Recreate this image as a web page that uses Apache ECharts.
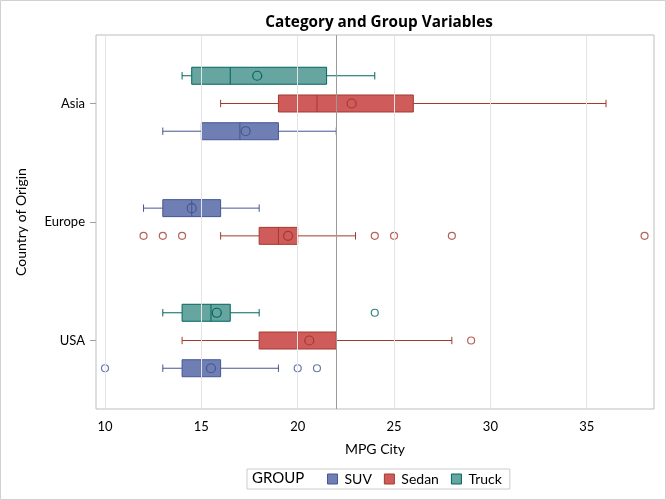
<!DOCTYPE html>
<html>
<head>
<meta charset="utf-8">
<script src="https://cdn.jsdelivr.net/npm/echarts@6/dist/echarts.min.js"></script>
<style>
html,body{margin:0;padding:0;background:#fff;}
#chart{width:666px;height:500px;}
</style>
</head>
<body>
<div id="chart"></div>
<script>
const countries = ['Asia', 'Europe', 'USA'];
const groups = ['SUV', 'Sedan', 'Truck'];
const xTicks = [10, 15, 20, 25, 30, 35];
const refValue = 22;

// [country, lowWhisker, q1, median, q3, highWhisker, mean]
const suvStats = [
  ['Asia', 13, 15, 17, 19, 22, 17.3],
  ['Europe', 12, 13, 14.5, 16, 18, 14.5],
  ['USA', 13, 14, 15, 16, 19, 15.5]
];
const sedanStats = [
  ['Asia', 16, 19, 21, 26, 36, 22.8],
  ['Europe', 16, 18, 19, 20, 23, 19.5],
  ['USA', 14, 18, 20, 22, 28, 20.6]
];
const truckStats = [
  ['Asia', 14, 14.5, 16.5, 21.5, 24, 17.9],
  ['USA', 13, 14, 15.5, 16.5, 18, 15.8]
];

// [country, value]
const suvOutliers = [['USA', 10], ['USA', 20], ['USA', 21]];
const sedanOutliers = [
  ['Europe', 12], ['Europe', 13], ['Europe', 14], ['Europe', 24],
  ['Europe', 25], ['Europe', 28], ['Europe', 38], ['USA', 29]
];
const truckOutliers = [['USA', 24]];

const statsByGroup = { SUV: suvStats, Sedan: sedanStats, Truck: truckStats };
const outliersByGroup = { SUV: suvOutliers, Sedan: sedanOutliers, Truck: truckOutliers };
const fillColors = { SUV: '#6F7EB3', Sedan: '#D05B5B', Truck: '#66A5A0' };
const lineColors = { SUV: '#445694', Sedan: '#A23A2E', Truck: '#01665E' };

const FONT = 'Lato';
const SLOT = 0.234;

function groupsIn(country) {
  return groups.filter(g => statsByGroup[g].some(r => r[0] === country));
}
function slotOffset(country, group) {
  const present = groupsIn(country);
  if (present.length === 3) return { SUV: 1, Sedan: 0, Truck: -1 }[group];
  const i = present.indexOf(group);
  return i - (present.length - 1) / 2;
}
function yPos(country, group) {
  return countries.indexOf(country) + slotOffset(country, group) * SLOT;
}

function makeRender(group) {
  return function (params, api) {
    const y = api.value(0);
    const p = k => api.coord([api.value(k), y]);
    const pl = p(1), pq1 = p(2), pm = p(3), pq3 = p(4), ph = p(5), pmean = p(6);
    const cy = pl[1];
    const hh = 8.5, ch = 3.7;
    const stroke = lineColors[group];
    const ls = { stroke: stroke, lineWidth: 1 };
    return {
      type: 'group',
      children: [
        { type: 'line', shape: { x1: pl[0], y1: cy, x2: pq1[0], y2: cy }, style: ls },
        { type: 'line', shape: { x1: pq3[0], y1: cy, x2: ph[0], y2: cy }, style: ls },
        { type: 'line', shape: { x1: pl[0], y1: cy - ch, x2: pl[0], y2: cy + ch }, style: ls },
        { type: 'line', shape: { x1: ph[0], y1: cy - ch, x2: ph[0], y2: cy + ch }, style: ls },
        { type: 'rect', shape: { x: pq1[0], y: cy - hh, width: pq3[0] - pq1[0], height: 2 * hh },
          style: { fill: fillColors[group], stroke: stroke, lineWidth: 1 } },
        { type: 'line', shape: { x1: pm[0], y1: cy - hh, x2: pm[0], y2: cy + hh }, style: ls },
        { type: 'circle', shape: { cx: pmean[0], cy: cy, r: 4.5 },
          style: { fill: 'none', stroke: stroke, lineWidth: 1.2 } }
      ]
    };
  };
}

const series = [];
series.push({
  type: 'scatter', name: 'grid', data: [], z: 1, silent: true,
  markLine: {
    silent: true, symbol: ['none', 'none'], label: { show: false },
    lineStyle: { color: '#E4E4E4', width: 1, type: 'solid' },
    emphasis: { disabled: true },
    data: xTicks.map(v => ({ xAxis: v }))
  }
});
groups.forEach(g => {
  series.push({
    type: 'custom', name: g, z: 3,
    itemStyle: { color: fillColors[g], borderColor: lineColors[g] },
    encode: { x: [1, 2, 3, 4, 5, 6], y: 0 },
    data: statsByGroup[g].map(r => [yPos(r[0], g), r[1], r[2], r[3], r[4], r[5], r[6]]),
    renderItem: makeRender(g),
    silent: true
  });
  series.push({
    type: 'scatter', name: g, z: 3, symbol: 'circle', symbolSize: 7,
    itemStyle: { color: 'rgba(0,0,0,0)', borderColor: lineColors[g], borderWidth: 1.2 },
    data: outliersByGroup[g].map(o => [o[1], yPos(o[0], g)]),
    silent: true
  });
});
series.push({
  type: 'scatter', name: 'ref', data: [], z: 5, silent: true,
  markLine: {
    silent: true, symbol: ['none', 'none'], label: { show: false },
    lineStyle: { color: '#9A9A9A', width: 1, type: 'solid' },
    emphasis: { disabled: true },
    data: [{ xAxis: refValue }]
  }
});

const chart = echarts.init(document.getElementById('chart'), null, { renderer: 'canvas' });
chart.setOption({
  animation: false,
  backgroundColor: '#fff',
  textStyle: { fontFamily: FONT },
  title: {
    text: 'Category and Group Variables',
    left: 374, top: 10, textAlign: 'center',
    textStyle: { fontFamily: 'Open Sans', fontSize: 15.3, fontWeight: 'bold', color: '#000' }
  },
  grid: { left: 96, right: 12, top: 35, bottom: 91, show: true, borderColor: '#BDBDBD', borderWidth: 1, backgroundColor: 'transparent' },
  xAxis: {
    type: 'value', min: 9.533, max: 38.49,
    name: 'MPG City', nameLocation: 'middle', nameGap: 33,
    nameTextStyle: { fontFamily: FONT, fontSize: 14, color: '#000' },
    axisLine: { show: false },
    axisTick: { show: true, length: 5, lineStyle: { color: '#A0A0A0' }, customValues: xTicks },
    axisLabel: { customValues: xTicks, margin: 11, fontFamily: FONT, fontSize: 13, color: '#000' },
    splitLine: { show: false }
  },
  yAxis: {
    type: 'value', inverse: true, min: -0.578, max: 2.578,
    name: 'Country of Origin', nameLocation: 'middle', nameGap: 68, nameRotate: 90,
    nameTextStyle: { fontFamily: FONT, fontSize: 14, color: '#000' },
    axisLine: { show: false },
    axisTick: { show: true, length: 6, lineStyle: { color: '#A0A0A0' }, customValues: [0, 1, 2] },
    axisLabel: {
      customValues: [0, 1, 2], margin: 11, fontFamily: FONT, fontSize: 13, color: '#000',
      formatter: v => countries[Math.round(v)]
    },
    splitLine: { show: false }
  },
  legend: {
    left: 247, top: 469, selectedMode: false,
    icon: 'rect', itemWidth: 10, itemHeight: 10, itemGap: 12,
    borderColor: '#CCCCCC', borderWidth: 1, borderRadius: 0,
    padding: [3, 8, 3, 80],
    textStyle: { fontFamily: FONT, fontSize: 14, color: '#000', padding: [0, 0, 0, 2] },
    data: groups.map(g => ({ name: g, itemStyle: { color: fillColors[g], borderColor: lineColors[g], borderWidth: 1 } }))
  },
  graphic: [
    { type: 'text', left: 252, top: 471, style: { text: 'GROUP', fontFamily: FONT, fontSize: 15, fill: '#000' } },
    { type: 'rect', shape: { x: 0.5, y: 0.5, width: 665, height: 499 }, style: { fill: 'none', stroke: '#D0D0D0', lineWidth: 1 }, z: 100, silent: true }
  ],
  series: series
});
</script>
</body>
</html>
